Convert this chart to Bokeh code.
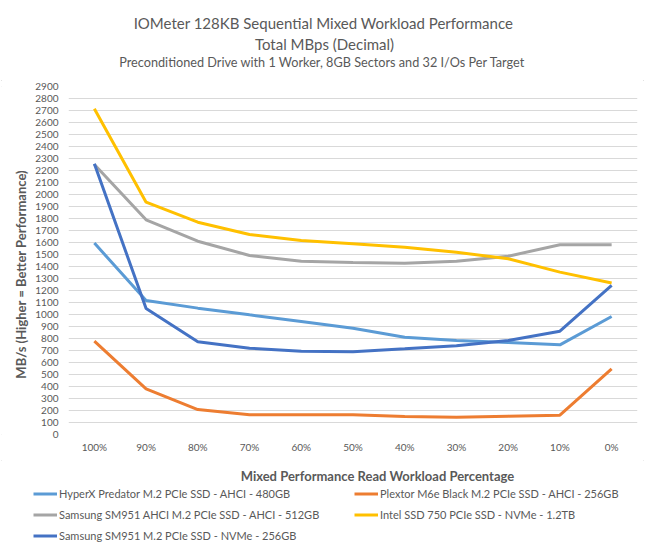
import math
import numpy as np
from bokeh.plotting import figure
from bokeh.layouts import column, row
from bokeh.models import (FactorRange, Range1d, SingleIntervalTicker, Label, Legend, LegendItem)
from bokeh.embed import file_html
from bokeh.resources import INLINE

categories = ["100%", "90%", "80%", "70%", "60%", "50%", "40%", "30%", "20%", "10%", "0%"]
hyperx = [1595, 1117, 1053, 997, 942, 885, 811, 783, 767, 747, 983]
plextor = [778, 381, 208, 164, 164, 165, 150, 144, 153, 161, 547]
samsung_ahci = [2250, 1789, 1611, 1492, 1444, 1433, 1428, 1444, 1486, 1581, 1581]
intel = [2714, 1936, 1769, 1667, 1617, 1590, 1561, 1519, 1464, 1353, 1263]
samsung_nvme = [2256, 1050, 772, 719, 694, 690, 714, 739, 783, 861, 1242]

series_names = [
    "HyperX Predator M.2 PCIe SSD - AHCI - 480GB",
    "Plextor M6e Black M.2 PCIe SSD - AHCI - 256GB",
    "Samsung SM951 AHCI M.2 PCIe SSD - AHCI - 512GB",
    "Intel SSD 750 PCIe SSD - NVMe - 1.2TB",
    "Samsung SM951 M.2 PCIe SSD - NVMe - 256GB",
]
series_values = [hyperx, plextor, samsung_ahci, intel, samsung_nvme]
series_colors = ["#5B9BD5", "#ED7D31", "#A5A5A5", "#FFC000", "#4472C4"]

title_lines = [
    "IOMeter 128KB Sequential Mixed Workload Performance",
    "Total MBps (Decimal)",
    "Preconditioned  Drive with 1 Worker,  8GB Sectors and 32 I/Os Per Target",
]
x_title = "Mixed Performance Read Workload Percentage"
y_title = "MB/s (Higher = Better Performance)"

FONT = "Lato"
TXT = "#595959"
W = 645
TOP_H = 80
MAIN_H = 380
BOT_H = 549 - TOP_H - MAIN_H
LEFT_W = 32


def blank(width, height):
    f = figure(width=width, height=height, x_range=Range1d(0, width), y_range=Range1d(height, 0),
               x_axis_location=None, y_axis_location=None, output_backend="svg",
               toolbar_location=None, min_border=0)
    f.outline_line_color = None
    f.grid.grid_line_color = None
    return f


# ---- title block ----
top = blank(W, TOP_H)
for txt, (cx, cy), size in zip(title_lines, [(323, 22), (324, 43), (325, 61)],
                               ["15px", "15px", "12.7px"]):
    top.add_layout(Label(x=cx, y=cy, text=txt, text_align="center", text_baseline="middle",
                         text_font=FONT, text_font_size=size, text_color=TXT))

# ---- y-axis title strip ----
left = blank(LEFT_W, MAIN_H)
left.add_layout(Label(x=20, y=285 - TOP_H, text=y_title, angle=math.pi / 2,
                      text_align="center", text_baseline="middle", text_font=FONT,
                      text_font_size="13px", text_font_style="bold", text_color=TXT))

# ---- main chart ----
p = figure(width=W - LEFT_W, height=MAIN_H, x_range=FactorRange(*categories),
           y_range=Range1d(0, 2900), output_backend="svg", toolbar_location=None,
           min_border_left=66 - LEFT_W, min_border_right=8, min_border_top=86 - TOP_H,
           min_border_bottom=MAIN_H - (86 - TOP_H) - 348)
p.outline_line_color = None
p.xgrid.grid_line_color = None
p.ygrid.grid_line_color = "#D9D9D9"
p.ygrid.grid_line_width = 1
p.yaxis.ticker = SingleIntervalTicker(interval=100)
for ax in (p.xaxis, p.yaxis):
    ax.axis_line_color = None
    ax.major_tick_line_color = None
    ax.minor_tick_line_color = None
    ax.major_tick_out = 0
    ax.major_tick_in = 0
    ax.minor_tick_out = 0
    ax.major_label_text_font = FONT
    ax.major_label_text_font_size = "10px"
    ax.major_label_text_color = TXT
p.yaxis.major_label_standoff = 10
p.xaxis.major_label_standoff = 6

for vals, col in zip(series_values, series_colors):
    p.line(categories, vals, line_color=col, line_width=3)

# ---- bottom block: x title + legend ----
bot = blank(W, BOT_H)
bot.add_layout(Label(x=377, y=475 - (TOP_H + MAIN_H), text=x_title, text_align="center",
                     text_baseline="middle", text_font=FONT, text_font_size="13px",
                     text_font_style="bold", text_color=TXT))

positions = [(33, 493), (354, 493), (33, 514), (354, 514), (33, 535)]
for name, col, (lx, ly) in zip(series_names, series_colors, positions):
    r = bot.line(np.array([np.nan]), np.array([np.nan]), line_color=col, line_width=3)
    lg = Legend(items=[LegendItem(label=name, renderers=[r])],
                location=(lx, 549 - ly - 10.5),
                padding=0, margin=0, border_line_color=None, background_fill_alpha=0,
                glyph_width=24, glyph_height=21, label_height=21, label_standoff=2,
                label_text_font=FONT, label_text_font_size="11px", label_text_color=TXT,
                label_text_baseline="middle")
    bot.add_layout(lg)

layout = column(top, row(left, p), bot,
                styles={"outline": "1px solid #D9D9D9", "outline-offset": "-2px"})
open("out.html", "w").write(file_html(layout, INLINE))
